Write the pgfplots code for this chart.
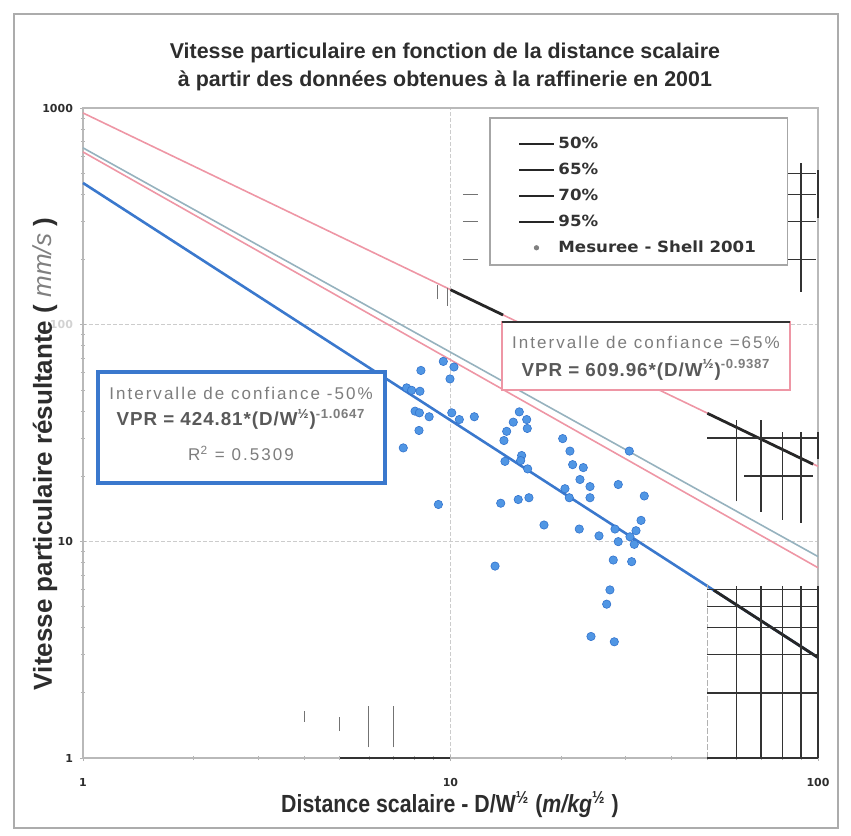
\documentclass[border=0pt]{standalone}
\usepackage{fontspec}
\setmainfont{Liberation Sans}
\newfontfamily\narrowfont{Liberation Sans}[FakeStretch=0.86]
\newfontfamily\legfont{DejaVu Sans}[FakeStretch=1.08]
\newfontfamily\tickfont{DejaVu Sans}
\newfontfamily\boxfont{Liberation Sans}[LetterSpace=12]
\newfontfamily\boxbold{Liberation Sans}[LetterSpace=5]
\usepackage{pgfplots}
\pgfplotsset{compat=1.18}

\definecolor{bluefit}{RGB}{58,120,205}
\definecolor{pinkfit}{RGB}{238,150,165}
\definecolor{greyfit}{RGB}{150,178,190}
\definecolor{dotblue}{RGB}{80,150,228}
\definecolor{dotedge}{RGB}{50,115,205}
\definecolor{txtgray}{RGB}{125,125,125}
\definecolor{inkdark}{RGB}{45,45,45}

\begin{document}
\begin{tikzpicture}
\begin{axis}[
    xmode=log, ymode=log,
    xmin=1, xmax=100, ymin=1, ymax=1000,
    width=367.5pt, height=325pt, scale only axis,
    clip=false,
    axis line style={gray!55, line width=0.6pt},
    xtick={1,10,100}, ytick={1,10,100,1000},
    xticklabels={1,10,100},
    yticklabels={1,10,{\color{gray!35}100},1000},
    xtick pos=bottom, ytick pos=left,
    tick align=center,
    tick style={gray!60, line width=0.4pt},
    major tick length=3pt, minor tick length=2pt,
    ticklabel style={font=\tickfont\bfseries\fontsize{5.5}{6}\selectfont, text=inkdark},
    xticklabel style={yshift=-5pt},
    xmajorgrids, ymajorgrids,
    major grid style={gray!40, line width=0.4pt, dash pattern=on 2pt off 1pt},
    legend style={at={(rel axis cs:0.592,0.962)}, anchor=north west,
        draw=none, fill=none, inner sep=0pt, row sep=1.7pt,
        font=\legfont\bfseries\fontsize{7.7}{9}\selectfont, text=black!80},
    legend cell align=left,
]
% regression / confidence lines
\addplot[bluefit, line width=1.3pt, forget plot] coordinates {(1,451) (100,2.91)};
\addplot[pinkfit, line width=0.8pt, forget plot] coordinates {(1,627) (100,7.56)};
\addplot[greyfit, line width=0.8pt, forget plot] coordinates {(1,655) (100,8.51)};
\addplot[pinkfit, line width=0.8pt, forget plot] coordinates {(1,949) (100,22.2)};

% measurements
\addplot[only marks, mark=*, mark size=2.1pt,
    mark options={fill=dotblue, draw=dotedge, line width=0.3pt}, forget plot]
table {
x y
9.56 67.7
10.22 63.8
8.31 61.5
9.97 56.2
7.60 51.1
7.84 49.8
8.26 49.3
8.01 39.9
8.23 39.2
8.75 37.6
10.08 39.2
10.57 36.5
11.61 37.6
8.21 32.5
7.44 27.0
9.27 14.8
15.39 39.6
14.82 35.5
16.12 36.5
16.18 33.2
14.22 32.2
13.98 29.2
20.20 29.8
21.14 26.1
30.66 26.1
15.62 24.9
15.52 23.6
14.07 23.4
16.22 21.6
21.50 22.6
22.98 21.9
22.51 19.3
23.97 17.9
28.61 18.3
20.49 17.5
21.05 15.9
23.97 15.9
33.68 16.2
13.70 15.0
15.29 15.6
16.35 15.9
33.00 12.5
17.97 11.9
22.41 11.4
25.36 10.6
28.03 11.4
31.98 11.2
30.79 10.5
28.61 9.97
31.63 9.69
27.73 8.20
31.12 8.06
13.22 7.69
27.16 5.97
26.61 5.13
24.12 3.64
27.91 3.44
};

% black overprinted fragments of the scan
\addplot[black!85, line width=1.4pt, forget plot] coordinates {(10,145) (13.9,110.9)};
\addplot[black!85, line width=1.4pt, forget plot] coordinates {(50,39.0) (97,22.7)};
\addplot[black!85, line width=1.4pt, forget plot] coordinates {(52,5.96) (100,2.91)};

\begin{scope}[black!80, line width=0.7pt]
  % lower right block
  \draw (axis cs:60,1) -- (axis cs:60,6.2);
  \draw (axis cs:70,1) -- (axis cs:70,6.2);
  \draw (axis cs:80,1) -- (axis cs:80,6.2);
  \draw (axis cs:90,1) -- (axis cs:90,6.2);
  \draw[line width=1.3pt] (axis cs:100,1) -- (axis cs:100,6.2);
  \draw[gray!60, dash pattern=on 3pt off 1pt] (axis cs:50,1) -- (axis cs:50,6.4);
  \draw (axis cs:50,2) -- (axis cs:100,2);
  \draw (axis cs:50,3) -- (axis cs:100,3);
  \draw (axis cs:50,4) -- (axis cs:100,4);
  \draw (axis cs:50,5) -- (axis cs:100,5);
  \draw (axis cs:50,6) -- (axis cs:100,6);
  \draw[line width=1.1pt] (axis cs:50,1) -- (axis cs:100,1);
  \draw[line width=1.1pt] (axis cs:5,1) -- (axis cs:10,1);
  % upper right block
  \draw (axis cs:60,15.3) -- (axis cs:60,36.5);
  \draw (axis cs:70,13.7) -- (axis cs:70,36.5);
  \draw (axis cs:80,12.6) -- (axis cs:80,32);
  \draw (axis cs:90,12.2) -- (axis cs:90,32);
  \draw[line width=1.3pt] (axis cs:100,24) -- (axis cs:100,32);
  \draw (axis cs:50,30) -- (axis cs:100,30);
  \draw (axis cs:63,20) -- (axis cs:97,20);
  % top right block
  \draw (axis cs:80,189) -- (axis cs:80,558);
  \draw (axis cs:90,142) -- (axis cs:90,558);
  \draw[line width=1.3pt] (axis cs:100,311) -- (axis cs:100,517);
  \draw (axis cs:80,200) -- (axis cs:99,200);
  \draw (axis cs:80,300) -- (axis cs:99,300);
  \draw (axis cs:80,400) -- (axis cs:99,400);
  \draw (axis cs:80,500) -- (axis cs:99,500);
  % small fragments
  \draw[black!55, line width=0.5pt] (axis cs:4,1.47) -- (axis cs:4,1.64);
  \draw[black!55, line width=0.5pt] (axis cs:5,1.33) -- (axis cs:5,1.55);
  \draw[black!55, line width=0.5pt] (axis cs:6,1.12) -- (axis cs:6,1.73);
  \draw[black!55, line width=0.5pt] (axis cs:7,1.12) -- (axis cs:7,1.73);
  \draw[black!55, line width=0.5pt] (axis cs:9.2,131) -- (axis cs:9.2,152);
  \draw[black!55, line width=0.5pt] (axis cs:9.8,122) -- (axis cs:9.8,148);
  \draw[black!55, line width=0.5pt] (axis cs:10.8,200) -- (axis cs:11.9,200);
  \draw[black!55, line width=0.5pt] (axis cs:10.8,300) -- (axis cs:11.9,300);
  \draw[black!55, line width=0.5pt] (axis cs:10.8,400) -- (axis cs:11.9,400);
\end{scope}

% annotation boxes
\draw[bluefit, line width=1.6pt, fill=white] (rel axis cs:0.0204,0.4231) rectangle (rel axis cs:0.4109,0.5938);
\node[font=\boxfont\fontsize{8.5}{9}\selectfont, text=txtgray] at (rel axis cs:0.215,0.5615) {Intervalle de confiance -50\%};
\node[font=\boxbold\bfseries\fontsize{9.4}{10}\selectfont, text=black!65] at (rel axis cs:0.215,0.521) {VPR = 424.81*(D/W\textsuperscript{½})\textsuperscript{\color{txtgray}-1.0647}};
\node[font=\boxfont\fontsize{8.5}{9}\selectfont, text=txtgray] at (rel axis cs:0.215,0.469) {R\textsuperscript{2} = 0.5309};

\draw[pinkfit, line width=1pt, fill=white] (rel axis cs:0.570,0.5662) rectangle (rel axis cs:0.962,0.6708);
\draw[black!80, line width=1.3pt] (rel axis cs:0.570,0.6708) -- (rel axis cs:0.962,0.6708);
\node[font=\boxfont\fontsize{8.5}{9}\selectfont, text=txtgray] at (rel axis cs:0.766,0.640) {Intervalle de confiance =65\%};
\node[font=\boxbold\bfseries\fontsize{9.4}{10}\selectfont, text=black!65] at (rel axis cs:0.766,0.597) {VPR = 609.96*(D/W\textsuperscript{½})\textsuperscript{\color{txtgray}-0.9387}};

% legend frame and entries
\draw[gray!70, line width=0.6pt, fill=white] (rel axis cs:0.5537,0.7585) rectangle (rel axis cs:0.959,0.9846);
\addlegendimage{black!85, line width=0.9pt}
\addlegendentry{50\%}
\addlegendimage{black!85, line width=0.9pt}
\addlegendentry{65\%}
\addlegendimage{black!85, line width=0.9pt}
\addlegendentry{70\%}
\addlegendimage{black!85, line width=0.9pt}
\addlegendentry{95\%}
\addlegendimage{only marks, mark=*, mark size=1.1pt, gray}
\addlegendentry{Mesuree - Shell 2001}

% titles and axis labels
\node[align=center, font=\bfseries\fontsize{10.7}{14}\selectfont, text=inkdark]
  at (rel axis cs:0.4925,1.063) {Vitesse particulaire en fonction de la distance scalaire\\à partir des données obtenues à la raffinerie en 2001};
\node[rotate=90, font=\bfseries\fontsize{13}{15}\selectfont, text=inkdark]
  at (rel axis cs:-0.0517,0.4677) {Vitesse particulaire résultante ( \textcolor{gray}{\itshape\mdseries mm/s} )};
\node[font=\narrowfont\bfseries\fontsize{12.4}{14}\selectfont, text=inkdark]
  at (rel axis cs:0.4993,-0.072) {Distance scalaire - D/W\textsuperscript{½} (\textit{m/kg}\textsuperscript{½} )};

% outer frame and page size
\draw[gray!65, line width=1.2pt] (rel axis cs:-0.0939,-0.1077) rectangle (rel axis cs:1.0272,1.1446);
\coordinate (bbSW) at (rel axis cs:-0.1129,-0.1185);
\coordinate (bbNE) at (rel axis cs:1.0449,1.1662);
\end{axis}
\pgfresetboundingbox
\useasboundingbox (bbSW) rectangle (bbNE);
\end{tikzpicture}
\end{document}
